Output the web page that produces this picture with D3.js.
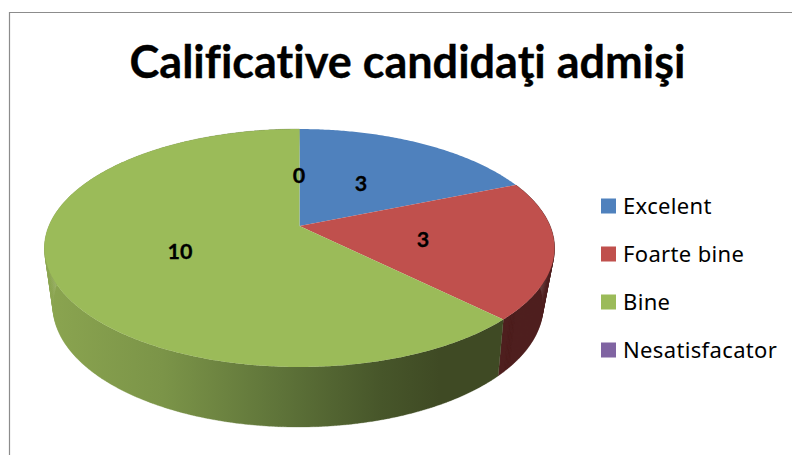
<!DOCTYPE html>
<html><head><meta charset="utf-8">
<script src="https://cdn.jsdelivr.net/npm/d3@7/dist/d3.min.js"></script>
<style>html,body{margin:0;padding:0;background:#fff;overflow:hidden}svg{display:block}text{font-family:Lato,sans-serif;fill:#000;font-variant-ligatures:none}</style>
</head><body><svg id="c" width="792" height="455"></svg>
<script>
const titleText = "Calificative candidaţi admişi";
const categories = ["Excelent","Foarte bine","Bine","Nesatisfacator"];
const values = [3,3,10,0];
const colors = ["#4f81bd","#c0504d","#9bbb59","#8064a2"];

const svg = d3.select("#c");
svg.append("path").attr("d","M9.5,470V12.5H800").attr("fill","none").attr("stroke","#8c8c8c").attr("stroke-width",1.2);

function project(angle, cx, cy, ax, by, persp){
  const x = Math.sin(angle), y = -Math.cos(angle), d = 1 + persp*y;
  return [cx + ax*x/d, cy + by*y/d];
}
const topFace = a => project(a, 299.5, 226, 250.6, 114.9, -0.185);
const bottomFace = a => project(a, 298, 279.6, 239, 115, -0.22);

const arcs = d3.pie().sort(null).value(d=>d)(values);
const sampled = a => { const n = Math.max(2, Math.ceil((a.endAngle-a.startAngle)/0.01)); return d3.range(n+1).map(i=>a.startAngle+(a.endAngle-a.startAngle)*i/n); };

const defs = svg.append("defs");
const g = defs.append("linearGradient").attr("id","gs").attr("gradientUnits","userSpaceOnUse").attr("x1",45).attr("x2",440).attr("y1",0).attr("y2",0);
[[0,"#8ba550"],[0.3,"#7b9448"],[0.6,"#5e7339"],[0.85,"#47562a"],[1,"#3f4a24"]].forEach(s=>g.append("stop").attr("offset",s[0]).attr("stop-color",s[1]));

const sideFill = ["none","#4e1f1e","url(#gs)","none"];
const line = d3.line();
arcs.forEach((a,i)=>{
  if(a.endAngle<=a.startAngle || sideFill[i]==="none") return;
  const t = sampled(a);
  let dstr = "";
  for(let k=0;k<t.length-1;k++){
    dstr += line([topFace(t[k]),topFace(t[k+1]),bottomFace(t[k+1]),bottomFace(t[k])])+"Z";
  }
  svg.append("path").attr("d",dstr).attr("fill",sideFill[i]).attr("stroke",sideFill[i]).attr("stroke-width",0.3);
});
arcs.forEach((a,i)=>{
  if(a.endAngle<=a.startAngle) return;
  const pts = [[299.5,226]].concat(sampled(a).map(topFace));
  svg.append("path").attr("d",line(pts)+"Z").attr("fill",colors[i]);
});

const labelPos = [[361,182.5],[423,238.5],[180,250.5],[299,174.5]];
values.forEach((v,i)=>{
  svg.append("text").attr("x",labelPos[i][0]).attr("y",labelPos[i][1]).attr("text-anchor","middle").attr("dominant-baseline","central")
    .attr("font-size",21.5).attr("font-weight",700).attr("stroke","#000").attr("stroke-width",0.3).text(v);
});

svg.append("text").attr("x",407.5).attr("y",78).attr("text-anchor","middle").attr("font-size",45).attr("font-weight",700).attr("stroke","#000").attr("stroke-width",0.35).text(titleText);

const legendY = d3.scaleLinear().domain([0,3]).range([206,350]);
categories.forEach((c,i)=>{
  const y = legendY(i);
  svg.append("rect").attr("x",601).attr("y",y-7.5).attr("width",15).attr("height",15).attr("fill",colors[i]);
  svg.append("text").attr("x",623).attr("y",y+7.5).style("font-family","'Noto Sans',sans-serif").style("letter-spacing","0.35px").attr("font-size",22).attr("fill","#111").text(c);
});
</script></body></html>
